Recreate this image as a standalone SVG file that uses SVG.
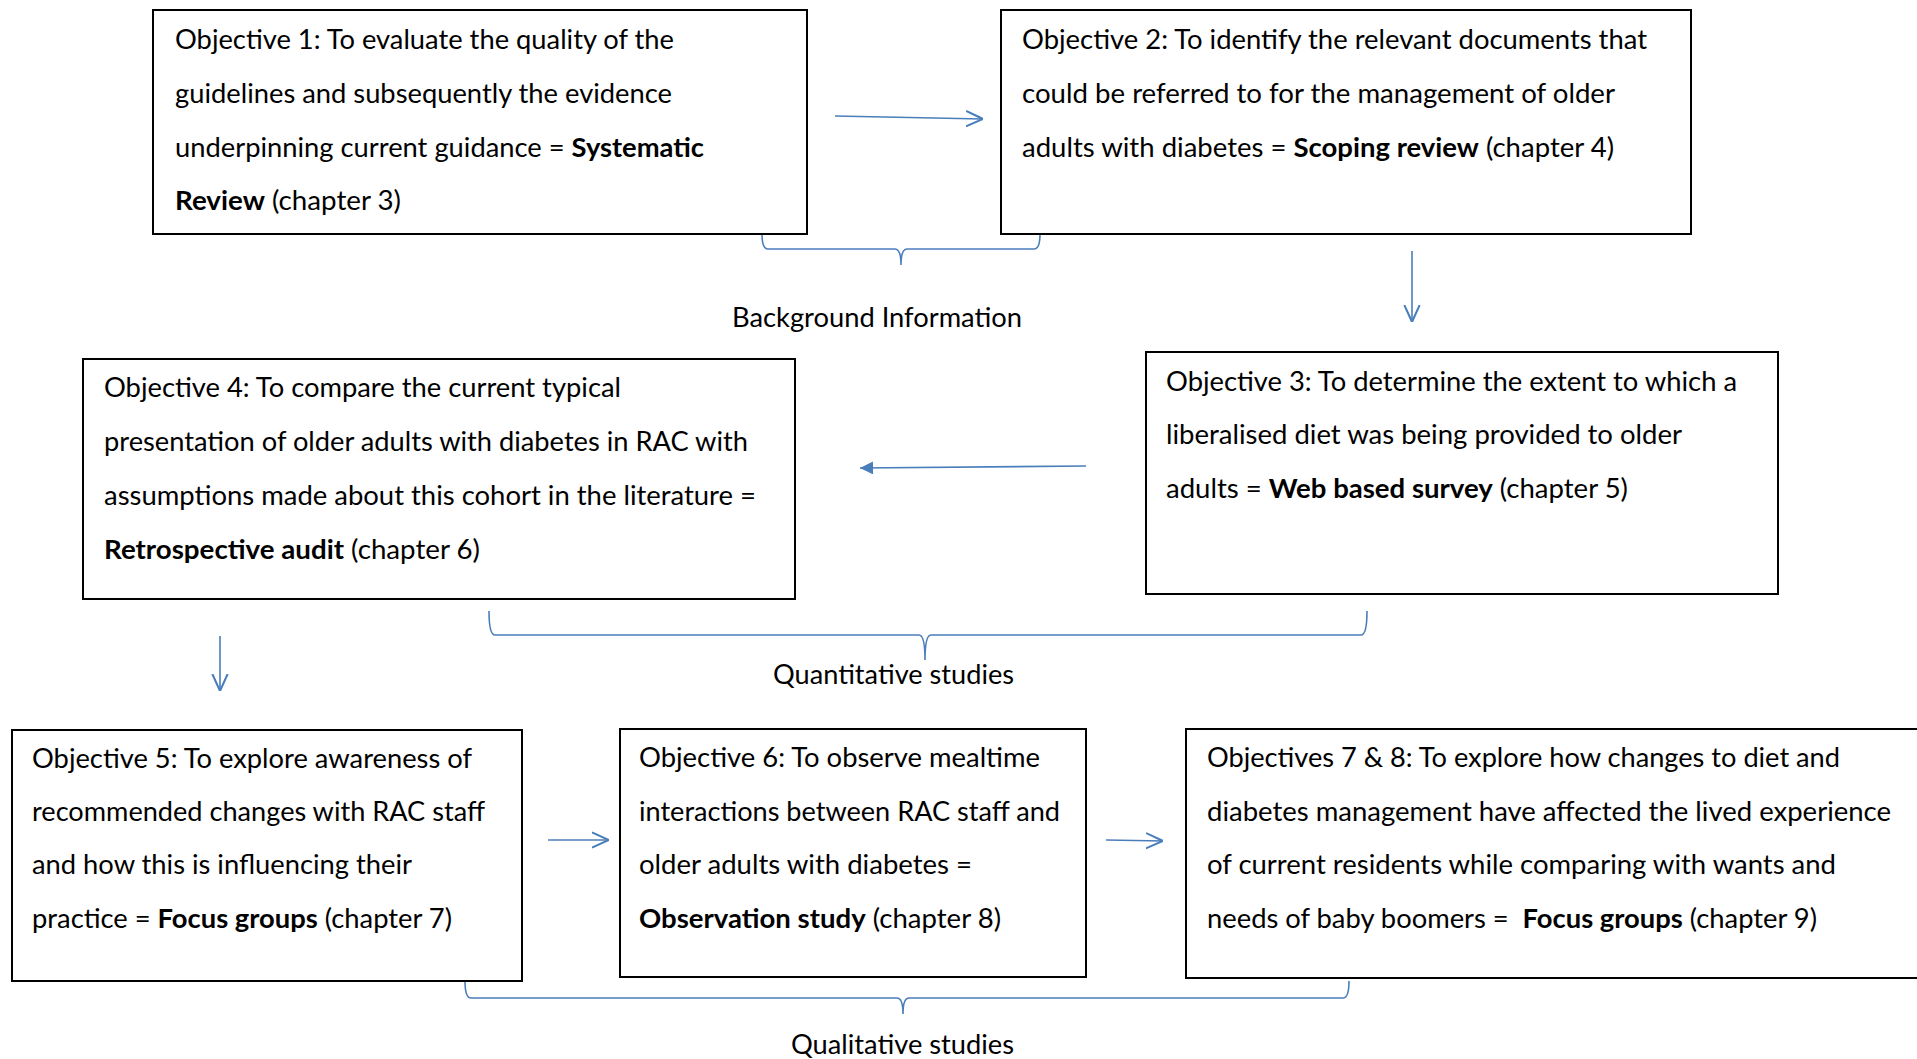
<svg xmlns="http://www.w3.org/2000/svg" width="1917" height="1059" viewBox="0 0 1917 1059">
<style>
.box{fill:#fff;stroke:#000;stroke-width:2}
.t{font-family:Lato,"Open Sans","Liberation Sans",sans-serif;font-size:26px;fill:#000}
.b{font-weight:bold}
.c{fill:none;stroke:#4a7ebb;stroke-width:1.6}
</style>
<defs>
<marker id="open" viewBox="0 0 10 10" refX="10" refY="5" markerUnits="userSpaceOnUse" markerWidth="17" markerHeight="20" orient="auto">
<path d="M0,0.5 L10,5 L0,9.5" fill="none" stroke="#4a7ebb" stroke-width="1.2"/>
</marker>
<marker id="fill" viewBox="0 0 10 10" refX="10" refY="5" markerUnits="userSpaceOnUse" markerWidth="15" markerHeight="13" orient="auto">
<path d="M0,0 L10,5 L0,10 Z" fill="#4a7ebb"/>
</marker>
</defs>
<rect width="1917" height="1059" fill="#fff"/>
<g id="connectors">
<line class="c" x1="835" y1="116" x2="983" y2="119" marker-end="url(#open)"/>
<line class="c" x1="1412" y1="251" x2="1412" y2="322" marker-end="url(#open)"/>
<line class="c" x1="1086" y1="466" x2="860" y2="468" marker-end="url(#fill)"/>
<line class="c" x1="220" y1="636" x2="220" y2="691" marker-end="url(#open)"/>
<line class="c" x1="548" y1="840" x2="609" y2="840" marker-end="url(#open)"/>
<line class="c" x1="1106" y1="840" x2="1163" y2="841" marker-end="url(#open)"/>
<path class="c" d="M762,234 Q762,249 768,249 L895,249 Q901,249 901,265 Q901,249 907,249 L1034,249 Q1040,249 1040,234"/>
<path class="c" d="M489,611 Q489,635 495,635 L919,635 Q925,635 925,660 Q925,635 931,635 L1361,635 Q1367,635 1367,611"/>
<path class="c" d="M465,981 Q465,998 471,998 L897,998 Q903,998 903,1014 Q903,998 909,998 L1343,998 Q1349,998 1349,981"/>
</g>
<g id="obj1">
<rect class="box" x="153" y="10" width="654" height="224"/>
<text class="t" x="175" y="49" textLength="499" lengthAdjust="spacingAndGlyphs">Objective 1: To evaluate the quality of the</text>
<text class="t" x="175" y="103" textLength="497" lengthAdjust="spacingAndGlyphs">guidelines and subsequently the evidence</text>
<text class="t" x="175" y="157" textLength="529" lengthAdjust="spacingAndGlyphs">underpinning current guidance = <tspan class="b">Systematic</tspan></text>
<text class="t" x="175" y="210" textLength="226" lengthAdjust="spacingAndGlyphs"><tspan class="b">Review</tspan> (chapter 3)</text>
</g>
<g id="obj2">
<rect class="box" x="1001" y="10" width="690" height="224"/>
<text class="t" x="1022" y="49" textLength="625" lengthAdjust="spacingAndGlyphs">Objective 2: To identify the relevant documents that</text>
<text class="t" x="1022" y="103" textLength="593" lengthAdjust="spacingAndGlyphs">could be referred to for the management of older</text>
<text class="t" x="1022" y="157" textLength="592" lengthAdjust="spacingAndGlyphs">adults with diabetes = <tspan class="b">Scoping review</tspan> (chapter 4)</text>
</g>
<g id="obj3">
<rect class="box" x="1146" y="352" width="632" height="242"/>
<text class="t" x="1166" y="391" textLength="571" lengthAdjust="spacingAndGlyphs">Objective 3: To determine the extent to which a</text>
<text class="t" x="1166" y="444" textLength="516" lengthAdjust="spacingAndGlyphs">liberalised diet was being provided to older</text>
<text class="t" x="1166" y="498" textLength="462" lengthAdjust="spacingAndGlyphs">adults = <tspan class="b">Web based survey</tspan> (chapter 5)</text>
</g>
<g id="obj4">
<rect class="box" x="83" y="359" width="712" height="240"/>
<text class="t" x="104" y="397" textLength="517" lengthAdjust="spacingAndGlyphs">Objective 4: To compare the current typical</text>
<text class="t" x="104" y="451" textLength="644" lengthAdjust="spacingAndGlyphs">presentation of older adults with diabetes in RAC with</text>
<text class="t" x="104" y="505" textLength="652" lengthAdjust="spacingAndGlyphs">assumptions made about this cohort in the literature =</text>
<text class="t" x="104" y="559" textLength="376" lengthAdjust="spacingAndGlyphs"><tspan class="b">Retrospective audit</tspan> (chapter 6)</text>
</g>
<g id="obj5">
<rect class="box" x="12" y="730" width="510" height="251"/>
<text class="t" x="32" y="768" textLength="440" lengthAdjust="spacingAndGlyphs">Objective 5: To explore awareness of</text>
<text class="t" x="32" y="821" textLength="453" lengthAdjust="spacingAndGlyphs">recommended changes with RAC staff</text>
<text class="t" x="32" y="874" textLength="380" lengthAdjust="spacingAndGlyphs">and how this is influencing their</text>
<text class="t" x="32" y="928" textLength="420" lengthAdjust="spacingAndGlyphs">practice = <tspan class="b">Focus groups</tspan> (chapter 7)</text>
</g>
<g id="obj6">
<rect class="box" x="620" y="729" width="466" height="248"/>
<text class="t" x="639" y="767" textLength="401" lengthAdjust="spacingAndGlyphs">Objective 6: To observe mealtime</text>
<text class="t" x="639" y="821" textLength="421" lengthAdjust="spacingAndGlyphs">interactions between RAC staff and</text>
<text class="t" x="639" y="874" textLength="333" lengthAdjust="spacingAndGlyphs">older adults with diabetes =</text>
<text class="t" x="639" y="928" textLength="362" lengthAdjust="spacingAndGlyphs"><tspan class="b">Observation study</tspan> (chapter 8)</text>
</g>
<g id="obj7">
<rect class="box" x="1186" y="729" width="740" height="249"/>
<text class="t" x="1207" y="767" textLength="633" lengthAdjust="spacingAndGlyphs">Objectives 7 &amp; 8: To explore how changes to diet and</text>
<text class="t" x="1207" y="821" textLength="684" lengthAdjust="spacingAndGlyphs">diabetes management have affected the lived experience</text>
<text class="t" x="1207" y="874" textLength="629" lengthAdjust="spacingAndGlyphs">of current residents while comparing with wants and</text>
<text class="t" x="1207" y="928" textLength="610" lengthAdjust="spacingAndGlyphs" xml:space="preserve">needs of baby boomers =  <tspan class="b">Focus groups</tspan> (chapter 9)</text>
</g>
<g id="labels">
<text class="t" x="732" y="327" textLength="290" lengthAdjust="spacingAndGlyphs">Background Information</text>
<text class="t" x="773" y="684" textLength="241" lengthAdjust="spacingAndGlyphs">Quantitative studies</text>
<text class="t" x="791" y="1054" textLength="223" lengthAdjust="spacingAndGlyphs">Qualitative studies</text>
</g>
</svg>
